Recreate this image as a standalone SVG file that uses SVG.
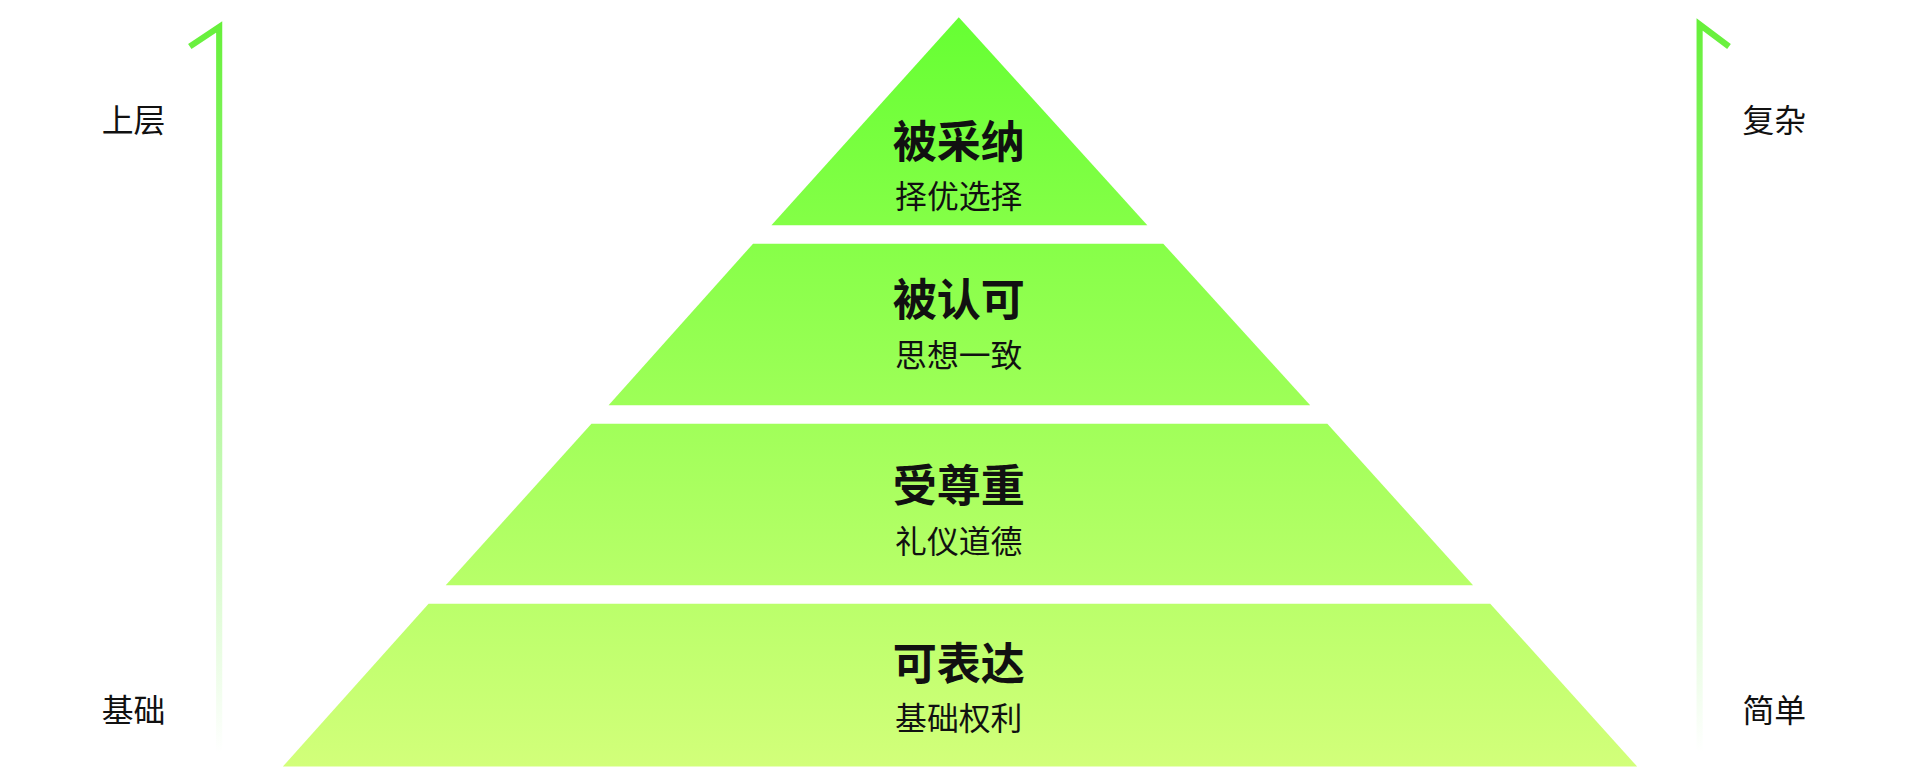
<svg xmlns="http://www.w3.org/2000/svg" width="1920" height="783" viewBox="0 0 1920 783">
<defs>
<linearGradient id="pg" gradientUnits="userSpaceOnUse" x1="0" y1="14" x2="0" y2="626">
<stop offset="0" stop-color="#66ff33"/><stop offset="1" stop-color="#d2ff7a"/>
</linearGradient>
<linearGradient id="ag" gradientUnits="userSpaceOnUse" x1="0" y1="20" x2="0" y2="615">
<stop offset="0" stop-color="#66f03a"/><stop offset="1" stop-color="#66f03a" stop-opacity="0"/>
</linearGradient>
<style>
.t{font-family:"Noto Sans CJK SC","Noto Sans",sans-serif;text-anchor:middle;fill:#111}
.h{font-size:36px;font-weight:bold}
.s{font-size:26px}
.l{font-family:"Noto Sans CJK SC","Noto Sans",sans-serif;font-size:26px;fill:#111}
.ar{fill:none;stroke:url(#ag);stroke-width:5}
</style>
</defs>
<rect width="1920" height="783" fill="#fff"/>
<g transform="scale(1.2245)">
<g id="tier1"><polygon points="783,14 937,184 630,184" fill="url(#pg)"/>
<text class="t h" x="783" y="129">被采纳</text><text class="t s" x="783" y="170">择优选择</text></g>
<g id="tier2"><polygon points="615,199 950,199 1070,331 497,331" fill="url(#pg)"/>
<text class="t h" x="783" y="258">被认可</text><text class="t s" x="783" y="300">思想一致</text></g>
<g id="tier3"><polygon points="483,346 1084,346 1203,478 364,478" fill="url(#pg)"/>
<text class="t h" x="783" y="410">受尊重</text><text class="t s" x="783" y="452">礼仪道德</text></g>
<g id="tier4"><polygon points="350,493 1217,493 1337,626 231,626" fill="url(#pg)"/>
<text class="t h" x="783" y="555">可表达</text><text class="t s" x="783" y="596">基础权利</text></g>
<g id="connectors">
<path class="ar" d="M179,615 V22 L155,38"/>
<path class="ar" d="M1388,615 V20 L1412,38"/>
</g>
<g id="labels">
<text class="l" x="83" y="108">上层</text>
<text class="l" x="83" y="590">基础</text>
<text class="l" x="1423" y="108">复杂</text>
<text class="l" x="1423" y="590">简单</text>
</g>
</g>
</svg>
